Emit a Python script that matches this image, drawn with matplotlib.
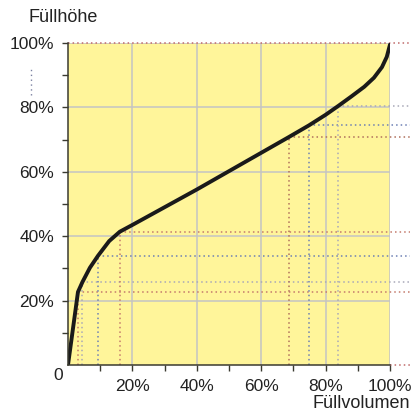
import matplotlib.pyplot as plt
from matplotlib.ticker import FixedLocator, FuncFormatter

plt.rcParams['font.family'] = ['Liberation Sans', 'DejaVu Sans']

# Fill curve: volume fraction vs. height fraction
vol = [0.0, 0.031, 0.045, 0.068, 0.093, 0.128, 0.161, 0.2, 0.4, 0.6, 0.686,
       0.748, 0.80, 0.84, 0.88, 0.92, 0.95, 0.975, 0.99, 1.0]
height = [0.0, 0.227, 0.258, 0.302, 0.339, 0.385, 0.414, 0.435, 0.545, 0.659,
          0.708, 0.744, 0.777, 0.805, 0.834, 0.864, 0.892, 0.925, 0.957, 0.995]

# Marked points with dotted guide lines
mark_x = [0.031, 0.045, 0.093, 0.161, 0.686, 0.748, 0.84]
mark_y = [0.227, 0.258, 0.339, 0.414, 0.708, 0.744, 0.805]
mark_c = ['#c47a6c', '#a8a8b8', '#6d80b4', '#c47a6c', '#b0705c', '#6d80b4', '#a8a8b8']

major = [0.2, 0.4, 0.6, 0.8, 1.0]
minor = [0.1, 0.3, 0.5, 0.7, 0.9]

fig = plt.figure(figsize=(4.12, 4.12), dpi=100)
ax = fig.add_axes([68 / 412, 47 / 412, 322 / 412, 322 / 412])
ax.set_facecolor('#fff59a')
ax.set_xlim(0, 1)
ax.set_ylim(0, 1)

# grid
for v in major:
    ax.axvline(v, color='#c4c4c4', lw=1.1, zorder=1)
    ax.axhline(v, color='#c4c4c4', lw=1.1, zorder=1)

dots = (0, (1, 2))
ext = 1.062
for x, y, c in zip(mark_x, mark_y, mark_c):
    ax.plot([x, x], [0, y], color=c, lw=1.1, ls=dots, zorder=2)
    ax.plot([x, ext], [y, y], color=c, lw=1.1, ls=dots, zorder=2, clip_on=False)
ax.plot([0, ext], [1, 1], color='#c06a6a', lw=1.1, ls=dots, zorder=2, clip_on=False)
ax.plot([1, ext], [0, 0], color='#c06a6a', lw=1.1, ls=dots, zorder=2, clip_on=False)

ax.plot(vol, height, color='#1a1a1a', lw=2.8, zorder=4,
        solid_capstyle='round', solid_joinstyle='round')

# small dots on the left between 80% and 100%
ax.plot([-0.115, -0.115], [0.839, 0.929], color='#7a80a0', lw=1, ls=(0, (1, 2.5)),
        clip_on=False)

for s in ['top', 'right']:
    ax.spines[s].set_visible(False)
for s in ['left', 'bottom']:
    ax.spines[s].set_color('#3a3a30')
    ax.spines[s].set_linewidth(1.1)
    ax.spines[s].set_zorder(5)

pct = FuncFormatter(lambda v, p: f'{round(v * 100)}%')
ax.xaxis.set_major_locator(FixedLocator(major))
ax.yaxis.set_major_locator(FixedLocator(major))
ax.xaxis.set_minor_locator(FixedLocator(minor))
ax.yaxis.set_minor_locator(FixedLocator(minor))
ax.xaxis.set_major_formatter(pct)
ax.yaxis.set_major_formatter(pct)
ax.tick_params(which='both', direction='out', length=4, width=1, color='#3a3a30',
               labelsize=12.5, labelcolor='#222222', pad=6)

ax.text(-0.031, -0.034, '0', ha='center', va='center', fontsize=12.5,
        color='#222222', transform=ax.transData, clip_on=False)

fig.text(29 / 412, 1 - 17 / 412, 'Füllhöhe', ha='left', va='center', fontsize=13,
         color='#222222')
fig.text(410 / 412, 1 - 404 / 412, 'Füllvolumen', ha='right', va='center',
         fontsize=13, color='#222222')

fig.savefig('out.png', dpi=100)
